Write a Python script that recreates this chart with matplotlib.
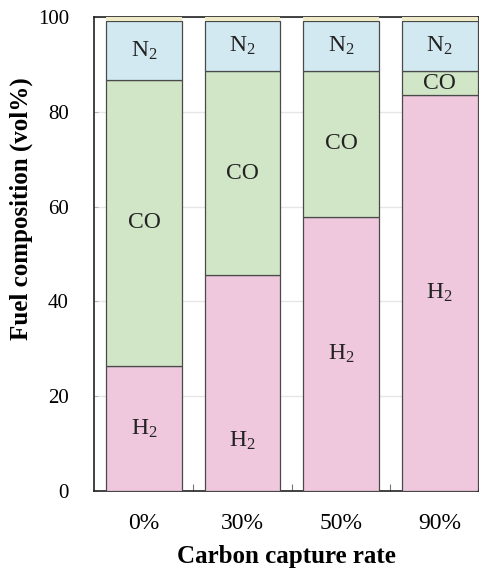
import matplotlib
matplotlib.use("Agg")
import matplotlib.pyplot as plt
import numpy as np

categories = ["0%", "30%", "50%", "90%"]
h2 = [26.4, 45.5, 57.9, 83.5]
co = [60.3, 43.1, 30.7, 5.1]
n2 = [12.5, 10.6, 10.6, 10.6]
other = [0.8, 0.8, 0.8, 0.8]
y_ticks = [0, 20, 40, 60, 80, 100]

plt.rcParams['font.family'] = ['Liberation Serif', 'DejaVu Serif']
plt.rcParams['mathtext.fontset'] = 'custom'
plt.rcParams['mathtext.rm'] = 'Liberation Serif'
plt.rcParams['mathtext.it'] = 'Liberation Serif:italic'

fig = plt.figure(figsize=(4.81, 5.72), dpi=100)
ax = fig.add_axes([94/481, 1 - 491/572, (478-94)/481, (491-17)/572])

x = np.arange(len(categories))
w = 0.77
ec = '#4a4a4a'
lw = 0.9
c_h2, c_co, c_n2, c_ot = '#efc8dd', '#d0e6c6', '#d3e9f2', '#eee9c6'

h2 = np.array(h2); co = np.array(co); n2 = np.array(n2); other = np.array(other)
ax.bar(x, h2, w, color=c_h2, edgecolor=ec, linewidth=lw, zorder=3)
ax.bar(x, co, w, bottom=h2, color=c_co, edgecolor=ec, linewidth=lw, zorder=3)
ax.bar(x, n2, w, bottom=h2 + co, color=c_n2, edgecolor=ec, linewidth=lw, zorder=3)
ax.bar(x, other, w, bottom=h2 + co + n2, color=c_ot, edgecolor='none', linewidth=0, zorder=3)

fs = 17
h2_pos = h2 / 2
h2_pos[1] = 10.5
for i in range(len(x)):
    ax.text(x[i], h2_pos[i], r'H$_2$', ha='center', va='center', fontsize=fs, color='#222222', zorder=5)
    ax.text(x[i], h2[i] + co[i] / 2, 'CO', ha='center', va='center', fontsize=fs, color='#222222', zorder=5)
    ax.text(x[i], h2[i] + co[i] + n2[i] / 2, r'N$_2$', ha='center', va='center', fontsize=fs, color='#222222', zorder=5)

ax.set_xlim(-0.507, 3.39)
ax.set_ylim(0, 100)
ax.set_yticks(y_ticks)
ax.set_xticks(x)
ax.set_xticklabels(categories)
ax.set_xticks([0.5, 1.5, 2.5], minor=True)
ax.tick_params(axis='x', which='major', length=0, labelsize=17, pad=16)
ax.tick_params(axis='x', which='minor', direction='in', length=5, width=0.8, color='#777777')
ax.tick_params(axis='y', direction='in', length=3, width=0.6, color='#aaaaaa', labelsize=15, pad=18)
ax.yaxis.grid(True, color='#e6e6e6', linewidth=1.0, zorder=0)
ax.set_axisbelow(True)
for s in ax.spines.values():
    s.set_color('#222222')
    s.set_linewidth(1.2)

ax.set_xlabel('Carbon capture rate', fontsize=18, fontweight='bold', labelpad=8)
ax.set_ylabel('Fuel composition (vol%)', fontsize=18, fontweight='bold')
ax.yaxis.set_label_coords(-0.16, 0.595)

fig.savefig('out.png', dpi=100)
